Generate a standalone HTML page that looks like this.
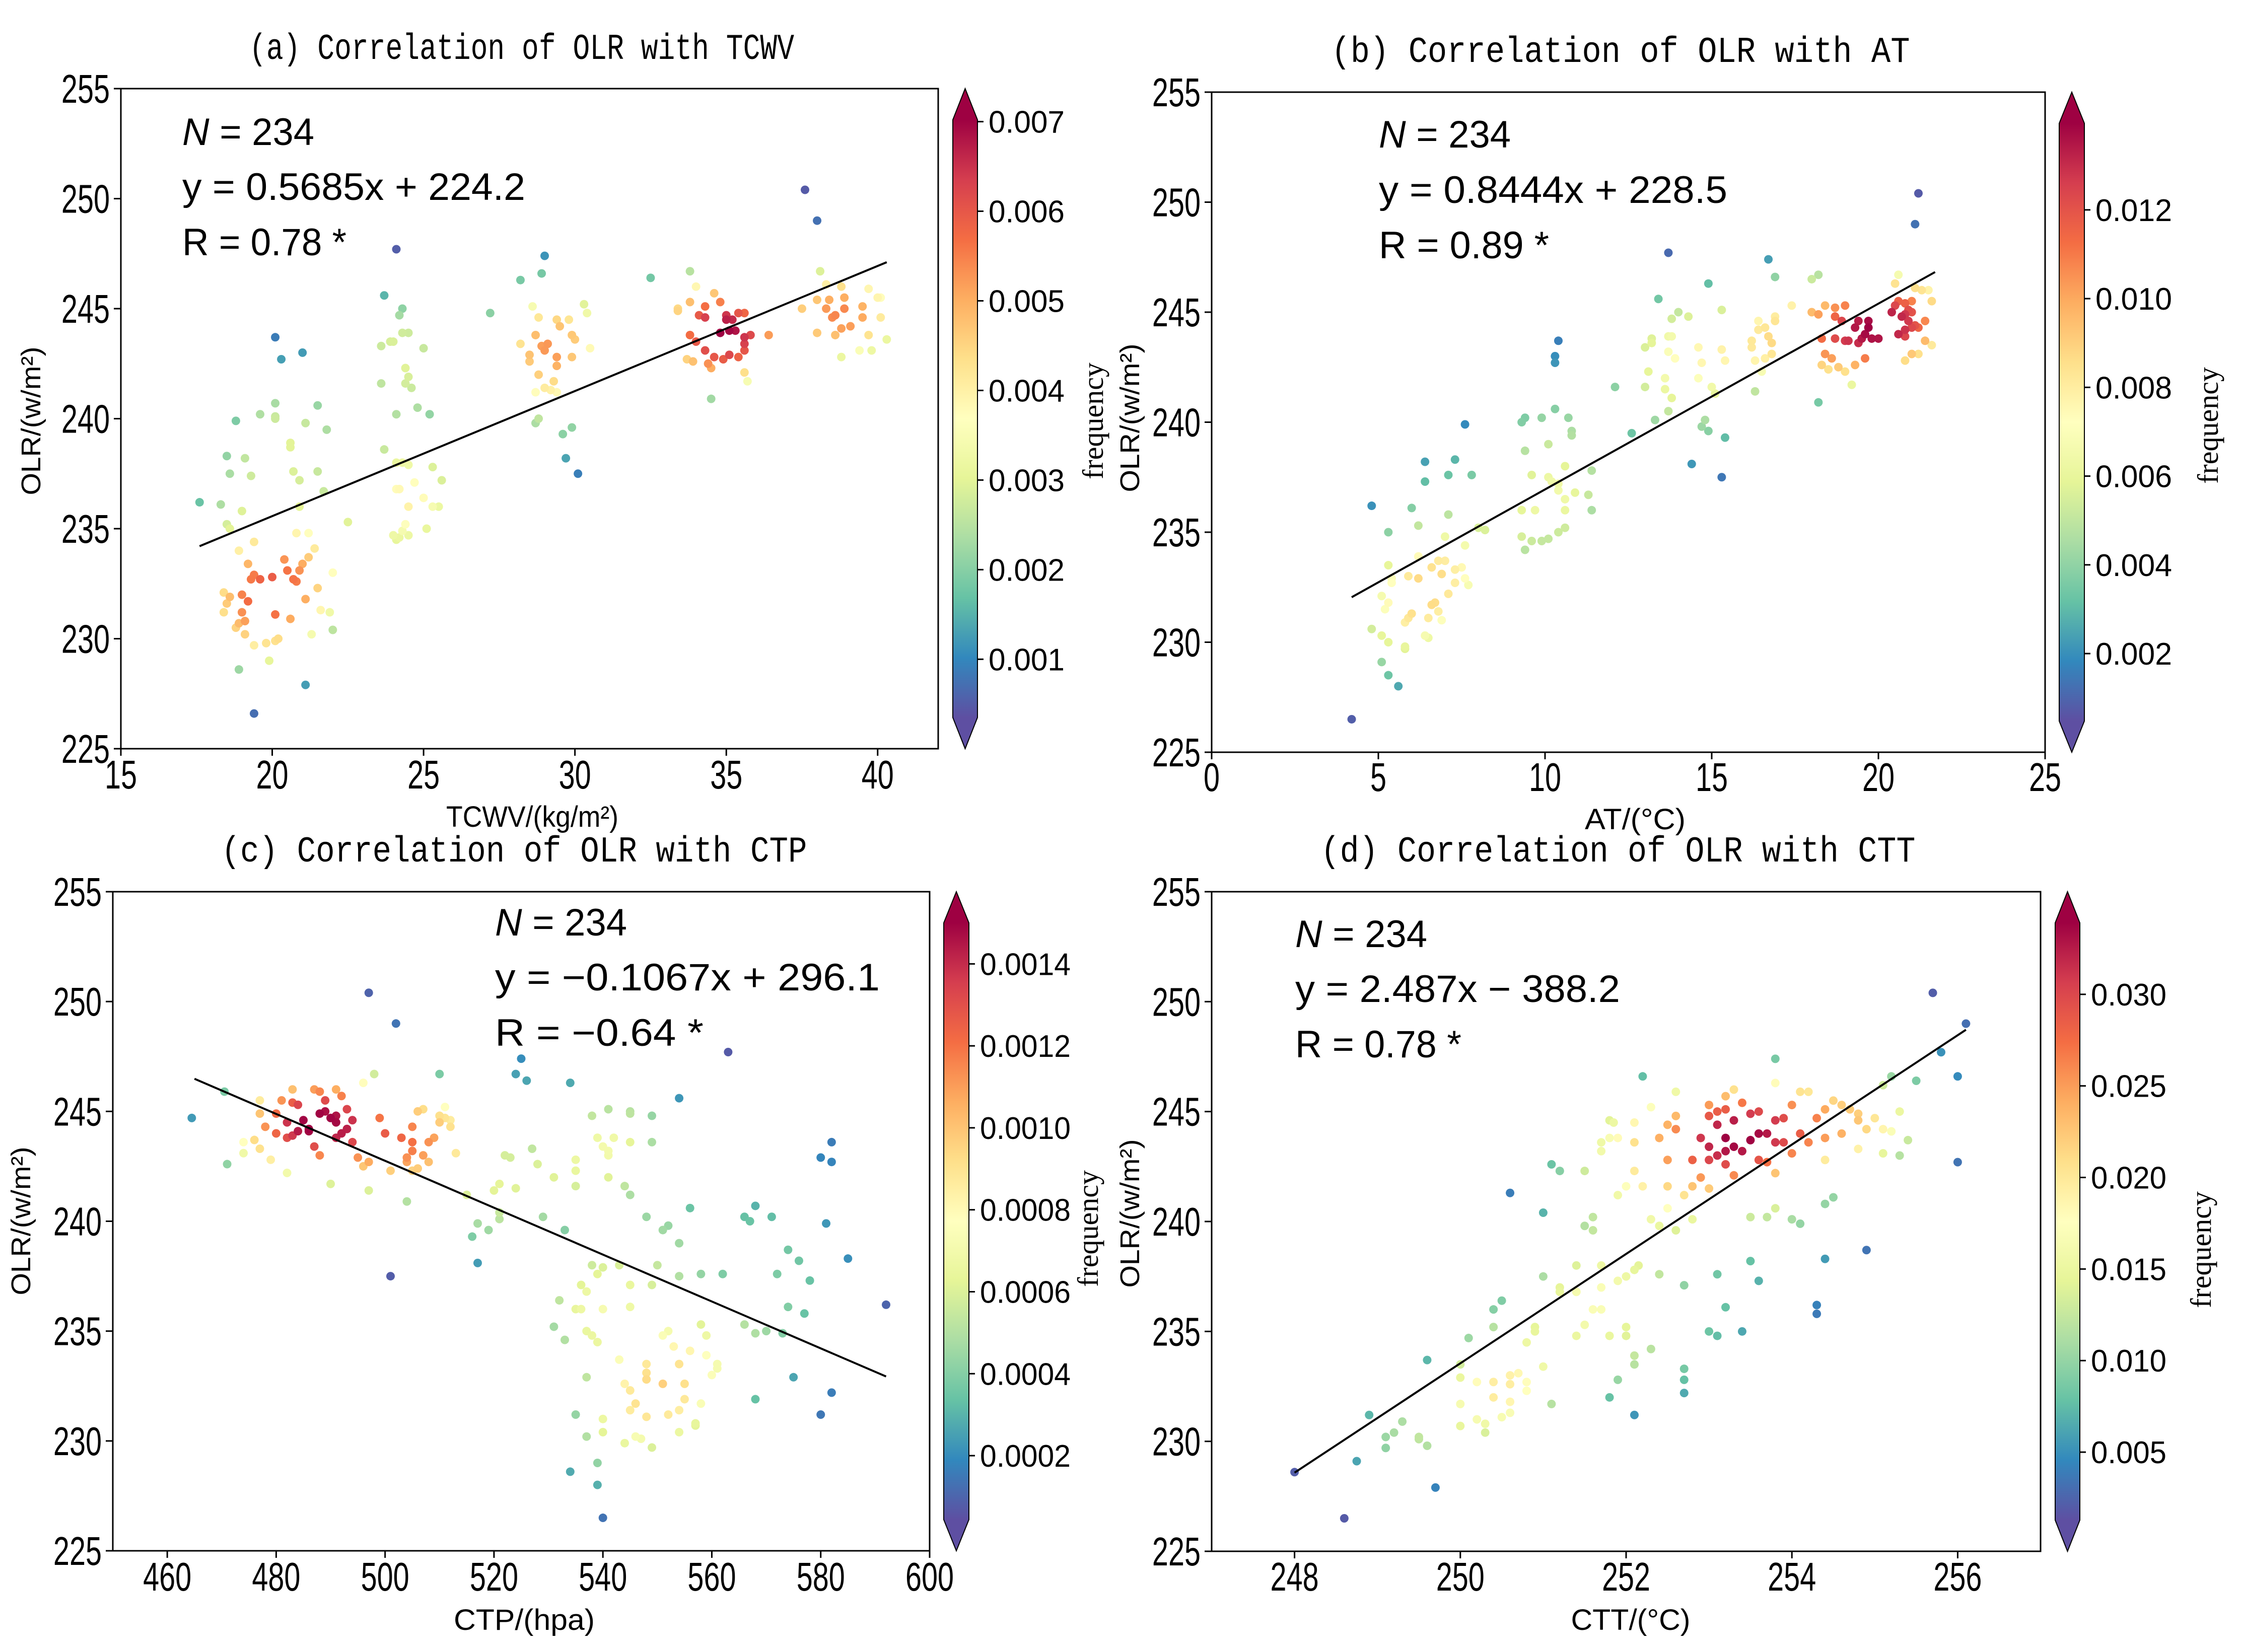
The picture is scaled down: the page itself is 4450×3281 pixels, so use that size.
<!DOCTYPE html>
<html><head><meta charset="utf-8"><style>
html,body{margin:0;padding:0;background:#fff;}
svg{display:block;}
</style></head><body>
<svg id="fig" xmlns="http://www.w3.org/2000/svg" width="4450" height="3281" viewBox="0 0 4450 3281">
<rect x="0" y="0" width="4450" height="3281" fill="#fff"/>
<defs id="defs"></defs>
</svg>
<script>
// ---------- data ----------
const aPts=[[17.6,236.2],[18.3,236.1],[18.5,238.3],[18.6,237.5],[18.8,239.9],[18.5,235.2],[18.6,235.0],[19.0,235.8],[19.1,238.2],[19.3,237.4],[19.6,240.2],[20.1,240.7],[20.1,240.1],[20.1,240.0],[20.1,243.7],[20.3,242.7],[21.0,243.0],[21.1,239.8],[20.6,238.9],[20.6,238.7],[20.7,237.6],[20.9,237.2],[21.5,237.6],[21.5,240.6],[21.8,239.5],[21.7,236.7],[20.9,236.0],[19.4,234.4],[18.9,234.0],
[19.2,233.4],[19.4,232.9],[19.3,232.7],[19.6,232.7],[20.0,232.8],[20.4,233.6],[20.5,233.1],[20.7,232.7],[20.8,232.6],[20.9,233.1],[21.0,233.4],[21.2,233.7],[21.4,234.1],[20.8,234.8],[21.2,234.8],[22.0,233.0],[21.5,232.3],[21.1,231.8],
[18.4,232.1],[18.6,231.9],[18.5,231.6],[18.4,231.2],[19.0,232.0],[19.2,231.7],[19.0,231.2],[19.1,230.8],[18.8,230.5],[19.1,230.2],[18.9,230.7],[20.1,231.1],[20.6,230.9],[21.6,231.3],[21.9,231.2],[20.1,229.9],[20.2,230.0],[21.3,230.2],[22.0,230.4],[19.4,229.7],[19.8,229.8],[19.9,229.0],[18.9,228.6],[19.4,226.6],[21.1,227.9],[22.5,235.3],
[23.7,245.6],[24.1,247.7],[24.3,245.0],[24.2,244.7],[24.3,243.9],[24.5,243.9],[23.9,243.5],[24.0,243.5],[23.6,243.3],[25.0,243.2],[24.4,242.3],[24.5,241.9],[24.4,241.6],[24.6,241.4],[23.6,241.6],[24.8,240.5],[25.2,240.2],[24.1,240.2],[23.7,238.6],[24.1,238.0],[24.3,238.0],[24.5,237.9],[25.3,237.8],[25.6,237.2],[24.7,237.1],[24.2,236.8],[24.1,236.8],[25.0,236.4],[24.5,236.0],[25.3,236.0],[25.5,236.0],[24.4,235.2],[25.1,235.0],[24.0,234.7],[24.2,234.6],[24.5,234.7],[24.1,234.5],[24.3,234.9],
[27.2,244.8],[28.2,246.3],[28.9,246.6],[29.0,247.4],[28.6,245.1],[28.8,244.6],[29.5,244.2],[29.4,244.5],[30.3,245.2],[30.4,244.8],[29.8,244.5],[29.9,243.8],[30.0,243.6],[30.5,243.2],[28.2,243.4],[28.7,243.8],[29.0,243.1],[29.1,243.4],[28.9,243.3],[28.5,242.9],[28.5,242.6],[29.4,242.8],[29.4,242.4],[29.3,241.7],[29.9,242.8],[28.8,242.0],[29.0,241.4],[29.2,241.3],[29.4,241.2],[28.7,241.2],[28.7,239.8],[28.8,240.0],[29.6,239.3],[29.9,239.6],[29.7,238.2],[30.1,237.5],
[32.5,246.4],[33.8,246.7],[34.0,246.0],[33.4,245.0],[33.4,244.9],[33.8,245.3],[34.3,245.1],[34.6,245.7],[34.8,245.3],[34.1,244.7],[34.3,244.6],[35.0,244.7],[35.2,244.5],[35.4,244.8],[35.6,244.8],[35.0,244.5],[35.1,244.0],[35.3,244.0],[34.8,243.9],[35.6,243.7],[35.8,243.8],[36.4,243.8],[35.6,243.4],[33.8,243.8],[34.0,243.5],[34.3,243.1],[34.6,242.8],[34.9,242.7],[35.1,242.9],[35.4,242.8],[35.6,243.1],[33.7,242.7],[33.9,242.6],[34.5,242.3],[34.4,242.5],[35.6,242.1],[35.7,241.7],[34.5,240.9],
[37.6,250.4],[38.0,249.0],[37.5,245.0],[38.0,245.4],[38.3,245.0],[38.5,244.6],[38.6,244.7],[38.4,245.4],[38.9,245.5],[38.8,246.0],[38.3,246.1],[38.1,246.7],[38.9,245.0],[39.1,244.2],[38.8,244.1],[38.6,243.8],[38.0,243.9],[39.5,245.1],[39.5,244.6],[39.7,245.9],[40.0,245.5],[40.1,245.5],[40.1,244.6],[39.7,243.8],[39.4,243.1],[39.8,243.1],[40.3,243.6],[38.8,242.8]];
const bPts=[[4.2,226.5],[4.8,236.2],[5.3,235.0],[5.6,228.0],[5.3,228.5],[5.1,229.1],[4.8,230.6],[5.1,230.3],[5.3,230.0],[5.1,232.1],[5.3,231.8],[5.4,232.7],[5.4,232.9],[5.3,233.5],[5.2,231.5],
[6.0,236.1],[6.4,238.2],[6.4,237.3],[6.2,235.3],[7.3,238.3],[7.1,237.6],[7.1,235.8],[7.6,239.9],[7.8,237.6],
[6.2,233.9],[6.6,233.4],[6.8,233.7],[7.0,233.7],[7.3,233.3],[7.5,233.4],[7.6,232.9],[7.7,232.6],[7.3,232.7],[7.1,232.2],[6.9,233.1],[6.6,231.7],[6.7,231.8],[6.2,232.9],[5.9,231.1],[6.0,231.3],[5.8,230.9],[6.5,231.1],[6.8,231.4],[6.9,231.0],[6.4,230.3],[6.5,230.2],[5.8,229.7],[5.8,229.8],[7.0,234.8],[7.6,234.4],[8.0,235.2],[8.2,235.1],[5.9,233.0],
[9.3,240.0],[9.4,240.2],[9.9,240.2],[9.4,238.7],[10.1,239.0],[9.6,237.6],[10.3,240.6],[10.7,240.2],[10.8,239.6],[10.8,239.4],[10.3,243.0],[10.3,242.7],[10.4,243.7],[9.3,236.0],[9.3,234.8],[9.4,234.2],[9.9,234.6],[10.1,234.7],[10.4,235.0],[10.6,235.2],[9.7,236.0],[10.1,237.5],[10.4,237.2],[10.6,236.5],[10.6,236.0],[10.6,238.0],[10.2,237.3],[10.9,236.8],[11.3,236.7],[11.4,237.8],[11.4,236.0],[10.4,236.9],[9.6,234.6],
[12.1,241.6],[12.6,239.5],[13.0,241.6],[13.1,242.3],[13.0,243.4],[13.2,243.6],[13.2,243.8],[13.3,240.1],[13.6,242.0],[13.6,241.5],[13.7,243.9],[13.8,243.9],[13.7,243.2],[13.9,242.9],[13.8,241.1],[13.7,240.5],[13.4,245.6],[13.7,247.7],[13.8,244.7],[14.0,245.0],[14.3,244.8],[14.9,246.3],[15.3,245.1],[14.4,238.1],[15.3,237.5],[14.7,239.8],[14.8,240.1],[14.9,239.6],[15.4,239.3],[14.6,243.4],[14.7,242.7],[14.6,242.0],[15.0,241.6],[15.1,241.3],[15.3,243.3],[15.4,242.8],
[16.2,243.7],[16.2,243.4],[16.4,244.2],[16.4,244.6],[16.3,242.8],[16.6,244.3],[16.7,243.9],[16.8,243.6],[16.6,242.9],[16.5,242.3],[16.9,244.6],[16.9,244.8],[16.3,241.4],[16.8,243.1],[17.4,245.3],[16.7,247.4],[16.9,246.6],
[18.0,246.5],[18.2,246.7],[18.0,245.0],[18.2,244.9],[18.4,245.3],[18.7,245.2],[18.7,244.8],[18.9,244.6],[19.0,245.3],[19.4,244.6],[19.3,244.3],[19.7,244.6],[19.7,244.3],[19.6,244.0],[19.5,243.8],[19.4,243.6],[19.8,243.8],[20.0,243.8],[19.1,243.7],[19.0,243.7],[18.7,243.8],[18.3,243.8],[18.4,243.1],[18.6,242.9],[18.8,242.5],[18.3,242.6],[18.5,242.4],[19.0,242.3],[19.3,242.6],[19.6,242.9],[19.2,241.7],[18.2,240.9],
[20.4,245.0],[20.5,245.3],[20.6,245.5],[20.8,245.4],[20.9,245.1],[21.0,245.0],[20.8,244.9],[20.7,244.8],[20.9,244.6],[21.0,244.3],[20.8,244.2],[21.1,244.4],[21.0,245.5],[21.3,246.0],[21.1,246.1],[21.5,246.0],[21.6,245.5],[21.4,244.6],[21.2,244.3],[20.6,244.0],[20.8,243.9],[20.5,246.3],[20.6,246.7],[21.4,243.7],[21.6,243.5],[21.2,243.1],[21.0,243.1],[20.8,242.8],[21.1,249.0],[21.2,250.4]];
const cPts=[[464.5,244.7],[470.5,245.9],[471,242.6],[474,243.1],[474,243.6],[476,243.7],[477,243.3],[477,244.9],[477,245.5],[478,244.3],[479,242.8],[480,244.9],[480,244.0],[481,245.5],[482,244.5],[482,243.8],[483,245.4],[483,243.9],[483,246.0],[484,245.3],[484,244.1],[485,244.6],[486,244.1],[486,244.2],[487,246.0],[487,243.4],[488,245.9],[488,243.0],[488,244.9],[489,245.5],[489,245.0],[490,244.7],[491,244.8],[491,244.5],[491,243.8],[492,244.0],[493,244.2],[493,245.1],[494,244.6],[494,243.6],[492,245.7],[491,246.0],[496,246.3],[498,246.7],[482,242.2],[490,241.7],[497,241.4],[495,242.9],[496,242.5],[497,242.7],[499,244.7],[500,244.0],[501,242.3],[503,243.8],[504,242.9],[504,242.7],[505,243.6],[505,244.3],[505,243.2],[505,242.3],[506,242.4],[507,243.0],[508,242.7],[508,243.6],[509,243.8],[506,245.0],[507,245.1],[510,244.5],[510,244.8],[511,245.2],[511,244.7],[512,244.3],[512,244.6],[513,243.1],[510,246.7],[504,240.9],[501,237.5],[497,250.4],[502,249.0],
[515,241.2],[517,239.9],[516,239.3],[517,238.1],[519,239.6],[520,241.4],[521,241.7],[521,240.4],[521,240.1],[522,243.0],[523,242.9],[524,241.5],[524,246.7],[525,247.4],[526,246.4],[527,243.3],[528,242.6],[529,240.2],[531,242.0],[532,236.4],[531,235.2],[533,234.6],[533,239.6],[534,246.3],[535,242.8],[535,242.3],[535,241.6],[535,236.0],[536,236.0],[536,237.1],[537,236.8],[537,232.9],[537,235.0],[538,234.8],[538,238.0],[538,244.8],[539,243.8],[539,237.6],[539,234.5],[540,243.4],[540,236.0],[540,237.9],[540,231.0],[541,245.1],[541,243.0],[541,243.2],[541,242.0],[542,243.8],[543,238.0],[540,230.4],[535,231.2],[537,230.2],[539,229.0],[534,228.6],[539,228.0],[540,226.5],
[543,233.7],[544,232.6],[544,241.6],[545,244.9],[545,245.0],[545,243.6],[545,241.2],[545,236.1],[545,237.1],[545,232.3],[545,231.4],[546,231.7],[546,230.2],[547,230.1],[548,240.2],[549,243.6],[549,244.8],[549,237.1],[548,233.5],[548,233.1],[548,232.8],[548,231.1],[549,229.7],[544,229.9],[550,238.0],[551,234.8],[551,232.6],[552,235.0],[552,231.2],[551,239.6],[552,239.8],[553,234.3],[554,233.5],[554,231.4],[554,230.4],[554,237.5],[554,239.0],[555,232.6],[555,231.9],[556,234.1],[556,240.6],[557,230.8],[557,230.7],[558,231.7],[558,237.6],[558,235.3],[559,234.8],[559,233.9],[560,233.0],[561,233.5],[561,233.3],[562,237.6],[566,240.2],[566,235.3],[567,240.0],[568,240.7],[568,234.9],[568,231.9],[570,235.0],[571,240.2],[572,237.6],[573,234.9],[574,238.7],[574,236.1],[575,232.9],[576,238.2],[577,235.8],[578,237.3],[580,231.2],[580,242.9],[581,239.9],[582,242.7],[582,243.6],[582,232.2],[585,238.3],[563,247.7],[554,245.6],[592,236.2]];
const dPts=[[248,228.6],[248.6,226.5],[248.75,229.1],[248.9,231.2],[249.1,230.2],[249.2,230.4],[249.1,229.7],[249.3,230.9],[249.5,230.1],[249.5,230.2],[249.6,229.8],[249.6,233.7],[249.7,227.9],[250.0,230.7],[250.0,231.7],[250.0,232.9],[250.0,233.5],[250.1,234.7],[250.2,231.0],[250.2,232.7],[250.3,230.8],[250.3,230.4],[250.4,235.2],[250.4,236.0],[250.4,232.0],[250.4,232.7],[250.5,231.1],[250.5,236.4],[250.6,241.3],[250.6,233.0],[250.6,232.6],[250.6,231.8],[250.6,231.3],[250.7,233.1],[250.8,232.3],[250.8,232.7],[250.8,234.5],[250.9,235.0],[250.9,235.2],[251.0,240.4],[251.0,237.5],[251.0,233.4],[251.1,231.7],[251.1,242.6],[251.2,242.3],[251.2,237.0],[251.2,236.8],[251.4,236.8],[251.4,234.8],[251.4,238.0],[251.5,242.3],[251.5,239.8],[251.6,239.6],[251.6,240.2],[251.5,235.3],[251.6,236.0],[251.7,236.0],[251.7,237.0],[251.7,238.0],[251.7,243.2],[251.7,243.6],[251.8,244.6],[251.85,244.5],[251.8,243.8],[251.9,243.8],[251.9,241.2],[251.9,237.3],[251.8,232.0],[251.8,234.8],[251.9,232.8],[252.0,234.8],[252.0,237.5],[252.0,235.2],[252.0,241.6],[252.1,243.6],[252.1,242.3],[252.1,244.5],[252.1,237.8],[252.15,238.0],[252.1,233.5],[252.1,233.9],[252.1,231.2],[252.2,246.6],[252.2,241.6],[252.3,240.1],[252.3,234.2],[252.3,245.2],[252.4,243.8],[252.4,239.8],[252.4,237.6],[252.5,244.4],[252.5,242.8],[252.5,241.6],[252.5,240.6],[252.6,239.6],[252.6,245.9],[252.6,244.8],[252.6,244.2],[252.7,241.2],[252.7,233.3],[252.7,232.2],[252.7,232.8],[252.7,237.1],[252.8,242.8],[252.8,240.1],[252.8,241.6],[252.9,242.0],[252.9,243.8],[253.0,243.4],[253.0,245.3],[253.0,244.8],[253.0,242.8],[253.0,241.5],[253.1,243.0],[253.1,244.4],[253.1,245.0],[253.1,237.6],[253.1,234.8],[253.0,235.0],[253.2,243.8],[253.2,243.2],[253.2,242.6],[253.2,245.1],[253.2,245.7],[253.2,236.1],[253.3,243.4],[253.3,244.6],[253.3,242.1],[253.3,246.0],[253.4,245.4],[253.4,243.2],[253.4,235.0],[253.5,243.7],[253.5,244.9],[253.5,238.2],[253.5,240.2],[253.6,244.0],[253.6,245.0],[253.6,242.8],[253.6,237.3],[253.7,240.2],[253.7,242.7],[253.7,244.0],[253.8,244.6],[253.8,243.6],[253.8,242.2],[253.8,246.3],[253.8,240.6],[253.8,247.4],[253.9,244.7],[253.9,243.6],[254.0,245.3],[254.0,243.1],[254.0,240.1],[254.1,244.0],[254.1,245.9],[254.1,239.9],[254.2,245.9],[254.2,243.6],[254.3,244.7],[254.3,236.2],[254.3,235.8],[254.4,243.8],[254.4,245.1],[254.4,242.8],[254.4,240.8],[254.4,238.3],[254.5,245.5],[254.5,241.1],[254.6,245.3],[254.6,244.0],[254.7,245.1],[254.8,244.6],[254.8,243.3],[254.8,244.9],[254.9,238.7],[254.9,244.2],[255.0,244.7],[255.1,246.2],[255.1,243.1],[255.1,244.2],[255.2,244.1],[255.2,246.6],[255.3,245.0],[255.3,243.0],[255.4,243.7],[255.5,246.4],[255.7,250.4],[255.8,247.7],[256.0,246.6],[256.0,242.7],[256.1,249.0]];
const fitSlopes=[0.5685,0.8444,-0.1067,2.487];
const fitIntercepts=[224.2,228.5,296.1,-388.2];
const fitXRanges=[[17.6,40.3],[4.2,21.7],[465,592],[248,256.1]];
const yTicks=[225,230,235,240,245,250,255];
const xTicksA=[15,20,25,30,35,40];
const xTicksB=[0,5,10,15,20,25];
const xTicksC=[460,480,500,520,540,560,580,600];
const xTicksD=[248,250,252,254,256];
const cbTicksA=[0.001,0.002,0.003,0.004,0.005,0.006,0.007];
const cbTicksB=[0.002,0.004,0.006,0.008,0.010,0.012];
const cbTicksC=[0.0002,0.0004,0.0006,0.0008,0.0010,0.0012,0.0014];
const cbTicksD=[0.005,0.010,0.015,0.020,0.025,0.030];
const cbLabelsA=['0.001','0.002','0.003','0.004','0.005','0.006','0.007'];
const cbLabelsB=['0.002','0.004','0.006','0.008','0.010','0.012'];
const cbLabelsC=['0.0002','0.0004','0.0006','0.0008','0.0010','0.0012','0.0014'];
const cbLabelsD=['0.005','0.010','0.015','0.020','0.025','0.030'];
const titles=['(a) Correlation of OLR with TCWV','(b) Correlation of OLR with AT','(c) Correlation of OLR with CTP','(d) Correlation of OLR with CTT'];
const xLabels=['TCWV/(kg/m²)','AT/(°C)','CTP/(hpa)','CTT/(°C)'];
const eqLines=[['y = 0.5685x + 224.2','R = 0.78 *'],['y = 0.8444x + 228.5','R = 0.89 *'],['y = −0.1067x + 296.1','R = −0.64 *'],['y = 2.487x − 388.2','R = 0.78 *']];

// ---------- layout ----------
const panels=[
 {key:'a',pts:aPts,xt:xTicksA,L:240,R:1863,T:176,B:1487,xr:[15,42],cbx:1892,cbw:49,cblo:0.00035,cbhi:0.00702,cbt:cbTicksA,cbl:cbLabelsA,cblw:151,
  title:{x:1036,y:117,w:1082},ann:{x:362,y:[288,397,507],w:[262,681,326]},xl:{x:1057,y:1642,w:342},xtY:1566,yl:{x:80,y:836},fq:{x:2190,y:836}},
 {key:'b',pts:bPts,xt:xTicksB,L:2406,R:4061,T:183,B:1494,xr:[0,25],cbx:4089,cbw:50,cblo:0.00048,cbhi:0.01395,cbt:cbTicksB,cbl:cbLabelsB,cblw:152,
  title:{x:3218,y:123,w:1149},ann:{x:2738,y:[293,403,513],w:[262,692,338]},xl:{x:3247,y:1647,w:200},xtY:1571,yl:{x:2262,y:830},fq:{x:4404,y:845}},
 {key:'c',pts:cPts,xt:xTicksC,L:224,R:1846,T:1771,B:3080,xr:[450,600],cbx:1874,cbw:50,cblo:0.000044,cbhi:0.0015,cbt:cbTicksC,cbl:cbLabelsC,cblw:180,
  title:{x:1021,y:1711,w:1163},ann:{x:983,y:[1858,1967,2077],w:[262,764,414]},xl:{x:1041,y:3237,w:280},xtY:3159,yl:{x:60,y:2425},fq:{x:2180,y:2440}},
 {key:'d',pts:dPts,xt:xTicksD,L:2406,R:4052,T:1771,B:3081,xr:[247,257],cbx:4081,cbw:49,cblo:0.00129,cbhi:0.0339,cbt:cbTicksD,cbl:cbLabelsD,cblw:150,
  title:{x:3213,y:1711,w:1181},ann:{x:2572,y:[1881,1990,2100],w:[262,645,330]},xl:{x:3238,y:3237,w:237},xtY:3159,yl:{x:2262,y:2410},fq:{x:4390,y:2482}}
];

const NS='http://www.w3.org/2000/svg';
const svg=document.getElementById('fig');
const defs=document.getElementById('defs');
function mk(tag,attrs,parent){const e=document.createElementNS(NS,tag);for(const k in attrs)e.setAttribute(k,attrs[k]);(parent||svg).appendChild(e);return e;}

const SPEC=['#5e4fa2','#3288bd','#66c2a5','#abdda4','#e6f598','#ffffbf','#fee08b','#fdae61','#f46d43','#d53e4f','#9e0142'];
function hex2rgb(h){return [parseInt(h.substr(1,2),16),parseInt(h.substr(3,2),16),parseInt(h.substr(5,2),16)];}
function cmap(t){t=Math.max(0,Math.min(1,t));const s=t*(SPEC.length-1);const i=Math.min(SPEC.length-2,Math.floor(s));const f=s-i;
 const a=hex2rgb(SPEC[i]),b=hex2rgb(SPEC[i+1]);return 'rgb('+a.map((v,k)=>Math.round(v+(b[k]-v)*f)).join(',')+')';}

const FONT='"Liberation Sans", "Noto Sans CJK SC", sans-serif';
panels.forEach((p,pi)=>{
 const g=mk('g',{});
 
 
 const sx=v=>p.L+(v-p.xr[0])/(p.xr[1]-p.xr[0])*(p.R-p.L);
 const sy=v=>p.B-(v-225)/(255-225)*(p.B-p.T);
 const t=mk('text',{x:p.title.x,y:p.title.y,'text-anchor':'middle','font-family':'"Liberation Mono", "Noto Sans CJK SC", monospace','font-size':72,textLength:p.title.w,lengthAdjust:'spacingAndGlyphs',fill:'#000'},g);
 t.textContent=titles[pi];
 
 
 const pts=p.pts;
 const nx=v=>(v-p.xr[0])/(p.xr[1]-p.xr[0]), ny=v=>(v-225)/30;
 const h=0.05;
 const dens=pts.map(a=>{let s=0;pts.forEach(b=>{const dx=nx(a[0])-nx(b[0]),dy=ny(a[1])-ny(b[1]);s+=Math.exp(-(dx*dx+dy*dy)/(2*h*h));});return s;});
 const dmin=Math.min(...dens),dmax=Math.max(...dens);
 const order=pts.map((_,i)=>i).sort((i,j)=>dens[i]-dens[j]);
 const pg=mk('g',{},g);
 
 
 order.forEach(i=>{
  const tt=0.02+0.98*(dens[i]-dmin)/(dmax-dmin||1);
  const c=mk('circle',{cx:sx(pts[i][0]),cy:sy(pts[i][1]),r:8.5,fill:cmap(tt)},pg);
  
  
 });
 const fx=fitXRanges[pi];
 const ln=mk('line',{x1:sx(fx[0]),y1:sy(fitSlopes[pi]*fx[0]+fitIntercepts[pi]),x2:sx(fx[1]),y2:sy(fitSlopes[pi]*fx[1]+fitIntercepts[pi]),stroke:'#000','stroke-width':4},g);
 
 
 const fr=mk('rect',{x:p.L,y:p.T,width:p.R-p.L,height:p.B-p.T,fill:'none',stroke:'#000','stroke-width':3},g);
 
 
 yTicks.forEach(v=>{
  const y=sy(v);
  mk('line',{x1:p.L-14,y1:y,x2:p.L,y2:y,stroke:'#000','stroke-width':3},g);
  const tx=mk('text',{x:0,y:0,'text-anchor':'end','font-family':FONT,'font-size':80,transform:'translate('+(p.L-22)+','+(y+28)+') scale(0.72,1)'},g);
  tx.textContent=String(v);
  
  
 });
 p.xt.forEach(v=>{
  const x=sx(v);
  mk('line',{x1:x,y1:p.B,x2:x,y2:p.B+14,stroke:'#000','stroke-width':3},g);
  const tx=mk('text',{x:0,y:0,'text-anchor':'middle','font-family':FONT,'font-size':80,transform:'translate('+x+','+p.xtY+') scale(0.72,1)'},g);
  tx.textContent=String(v);
  
  
 });
 const xl=mk('text',{x:p.xl.x,y:p.xl.y,'text-anchor':'middle','font-family':FONT,'font-size':58,textLength:p.xl.w,lengthAdjust:'spacingAndGlyphs'},g);
 xl.textContent=xLabels[pi];
 
 
 const yl=mk('text',{x:0,y:0,'text-anchor':'middle','font-family':FONT,'font-size':54,textLength:295,lengthAdjust:'spacingAndGlyphs',transform:'translate('+p.yl.x+','+p.yl.y+') rotate(-90)'},g);
 yl.textContent='OLR/(w/m²)';
 
 
 const a1=mk('text',{x:p.ann.x,y:p.ann.y[0],'font-family':FONT,'font-size':76,textLength:p.ann.w[0],lengthAdjust:'spacingAndGlyphs'},g);
 a1.innerHTML='<tspan font-style="italic">N</tspan> = 234';
 
 
 const a2=mk('text',{x:p.ann.x,y:p.ann.y[1],'font-family':FONT,'font-size':76,textLength:p.ann.w[1],lengthAdjust:'spacingAndGlyphs'},g);
 a2.textContent=eqLines[pi][0];
 
 
 const a3=mk('text',{x:p.ann.x,y:p.ann.y[2],'font-family':FONT,'font-size':76,textLength:p.ann.w[2],lengthAdjust:'spacingAndGlyphs'},g);
 a3.textContent=eqLines[pi][1];
 
 
 const gid='grad'+p.key;
 const lg=mk('linearGradient',{id:gid,x1:0,y1:1,x2:0,y2:0},defs);
 for(let k=0;k<=20;k++){mk('stop',{offset:(k/20),'stop-color':cmap(k/20)},lg);}
 const triH=62, rt=p.T+triH, rb=p.B-triH;
 const cg=mk('g',{},g);
 
 
 mk('rect',{x:p.cbx,y:rt,width:p.cbw,height:rb-rt,fill:'url(#'+gid+')'},cg);
 mk('polygon',{points:p.cbx+','+rt+' '+(p.cbx+p.cbw/2)+','+p.T+' '+(p.cbx+p.cbw)+','+rt,fill:cmap(1)},cg);
 mk('polygon',{points:p.cbx+','+rb+' '+(p.cbx+p.cbw/2)+','+p.B+' '+(p.cbx+p.cbw)+','+rb,fill:cmap(0)},cg);
 mk('polygon',{points:p.cbx+','+rt+' '+(p.cbx+p.cbw/2)+','+p.T+' '+(p.cbx+p.cbw)+','+rt+' '+(p.cbx+p.cbw)+','+rb+' '+(p.cbx+p.cbw/2)+','+p.B+' '+p.cbx+','+rb,fill:'none',stroke:'#000','stroke-width':2},cg);
 p.cbt.forEach((v,k)=>{
  const y=rb-(v-p.cblo)/(p.cbhi-p.cblo)*(rb-rt);
  mk('line',{x1:p.cbx+p.cbw,y1:y,x2:p.cbx+p.cbw+12,y2:y,stroke:'#000','stroke-width':3},cg);
  const tx=mk('text',{x:p.cbx+p.cbw+22,y:y+22,'font-family':FONT,'font-size':62,textLength:p.cblw,lengthAdjust:'spacingAndGlyphs'},cg);
  tx.textContent=p.cbl[k];
  
  
 });
 const fq=mk('text',{x:0,y:0,'text-anchor':'middle','font-family':'"Liberation Serif", serif','font-size':58,transform:'translate('+p.fq.x+','+p.fq.y+') rotate(-90)'},g);
 fq.textContent='frequency';
 
 
});
</script>
</body></html>
